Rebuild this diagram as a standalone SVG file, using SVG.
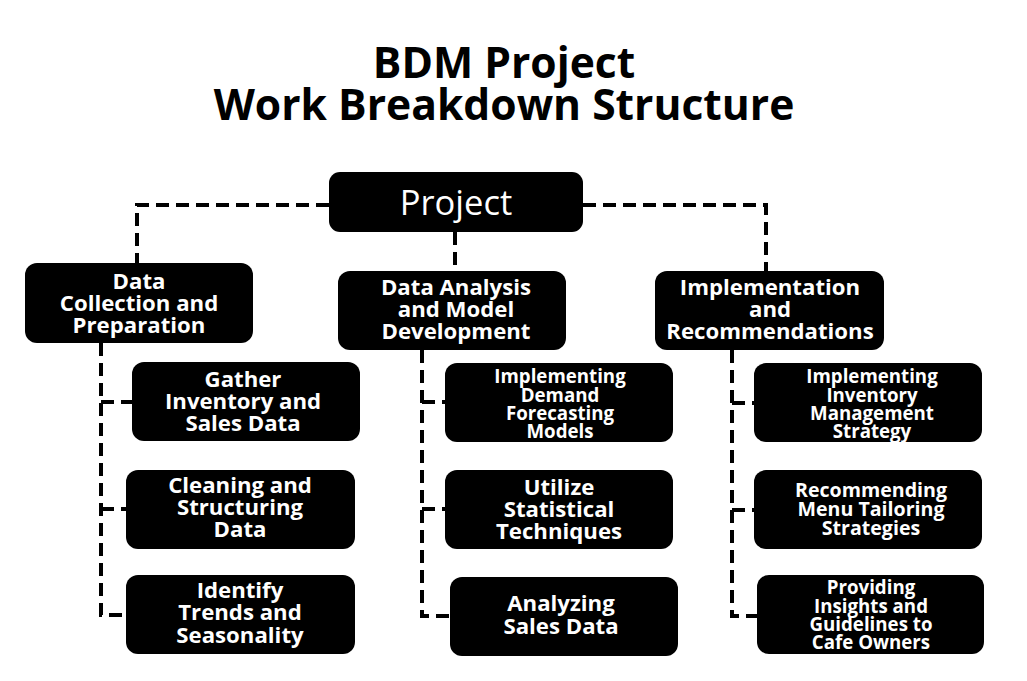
<svg xmlns="http://www.w3.org/2000/svg" width="1027" height="681" viewBox="0 0 1027 681">
<style>
.bg{fill:#ffffff}
.box{fill:#000000}
.t{font-family:"Open Sans","Noto Sans",sans-serif;font-weight:bold;fill:#ffffff;text-anchor:middle}
.t20{font-size:22.2px}
.t17{font-size:18.7px}
.t19{font-size:19.6px}
.title{font-family:"Open Sans","Noto Sans",sans-serif;font-weight:bold;font-size:42.6px;fill:#000000;text-anchor:middle}
.proj{font-family:"Open Sans","Noto Sans",sans-serif;font-size:34.5px;fill:#ffffff;text-anchor:middle}
.c{fill:none;stroke:#000000;stroke-width:4;stroke-dasharray:13 7}
</style>
<rect class="bg" x="0" y="0" width="1027" height="681"/>
<g id="title">
<text class="title" x="504" y="78">BDM Project</text>
<text class="title" x="504" y="120">Work Breakdown Structure</text>
</g>
<g id="connectors">
<path class="c" d="M329 205 H137 V263"/>
<path class="c" d="M455 232 V271"/>
<path class="c" d="M583 205 H766 V271"/>
<path class="c" d="M101 343 V615 H126 M101 402 H132 M101 509 H126"/>
<path class="c" d="M422 350 V616 H450 M422 402 H445 M422 509 H445"/>
<path class="c" d="M732 350 V616 H757 M732 403 H754 M732 510 H754"/>
</g>
<g id="project">
<rect class="box" x="329" y="172" width="254" height="60" rx="11"/>
<text class="proj" x="456" y="215">Project</text>
</g>
<g id="data-collection">
<rect class="box" x="25" y="263" width="228" height="80" rx="12"/>
<text class="t t20" x="139" y="289">Data</text>
<text class="t t20" x="139" y="311">Collection and</text>
<text class="t t20" x="139" y="333">Preparation</text>
</g>
<g id="data-analysis">
<rect class="box" x="338" y="271" width="228" height="79" rx="12"/>
<text class="t t20" x="456" y="295">Data Analysis</text>
<text class="t t20" x="456" y="317">and Model</text>
<text class="t t20" x="456" y="339">Development</text>
</g>
<g id="implementation">
<rect class="box" x="655" y="271" width="229" height="79" rx="12"/>
<text class="t t20" x="770" y="295">Implementation</text>
<text class="t t20" x="770" y="317">and</text>
<text class="t t20" x="770" y="339">Recommendations</text>
</g>
<g id="gather">
<rect class="box" x="132" y="362" width="228" height="79" rx="12"/>
<text class="t t20" x="243" y="387">Gather</text>
<text class="t t20" x="243" y="409">Inventory and</text>
<text class="t t20" x="243" y="431">Sales Data</text>
</g>
<g id="cleaning">
<rect class="box" x="126" y="470" width="229" height="79" rx="12"/>
<text class="t t20" x="240" y="493">Cleaning and</text>
<text class="t t20" x="240" y="515">Structuring</text>
<text class="t t20" x="240" y="537">Data</text>
</g>
<g id="identify">
<rect class="box" x="126" y="575" width="229" height="79" rx="12"/>
<text class="t t20" x="240" y="598">Identify</text>
<text class="t t20" x="240" y="620">Trends and</text>
<text class="t t20" x="240" y="643">Seasonality</text>
</g>
<g id="demand">
<rect class="box" x="445" y="363" width="228" height="79" rx="12"/>
<text class="t t17" x="560" y="383">Implementing</text>
<text class="t t17" x="560" y="402">Demand</text>
<text class="t t17" x="560" y="420">Forecasting</text>
<text class="t t17" x="560" y="438">Models</text>
</g>
<g id="statistical">
<rect class="box" x="445" y="470" width="228" height="79" rx="12"/>
<text class="t t20" x="559" y="495">Utilize</text>
<text class="t t20" x="559" y="517">Statistical</text>
<text class="t t20" x="559" y="539">Techniques</text>
</g>
<g id="analyzing">
<rect class="box" x="450" y="577" width="228" height="79" rx="12"/>
<text class="t t20" x="561" y="611">Analyzing</text>
<text class="t t20" x="561" y="634">Sales Data</text>
</g>
<g id="inventory">
<rect class="box" x="754" y="363" width="228" height="79" rx="12"/>
<text class="t t17" x="872" y="383">Implementing</text>
<text class="t t17" x="872" y="402">Inventory</text>
<text class="t t17" x="872" y="420">Management</text>
<text class="t t17" x="872" y="438">Strategy</text>
</g>
<g id="menu">
<rect class="box" x="754" y="470" width="228" height="79" rx="12"/>
<text class="t t19" x="871" y="497">Recommending</text>
<text class="t t19" x="871" y="516">Menu Tailoring</text>
<text class="t t19" x="871" y="535">Strategies</text>
</g>
<g id="insights">
<rect class="box" x="757" y="575" width="227" height="79" rx="12"/>
<text class="t t17" x="871" y="594">Providing</text>
<text class="t t17" x="871" y="613">Insights and</text>
<text class="t t17" x="871" y="631">Guidelines to</text>
<text class="t t17" x="871" y="649">Cafe Owners</text>
</g>
</svg>
